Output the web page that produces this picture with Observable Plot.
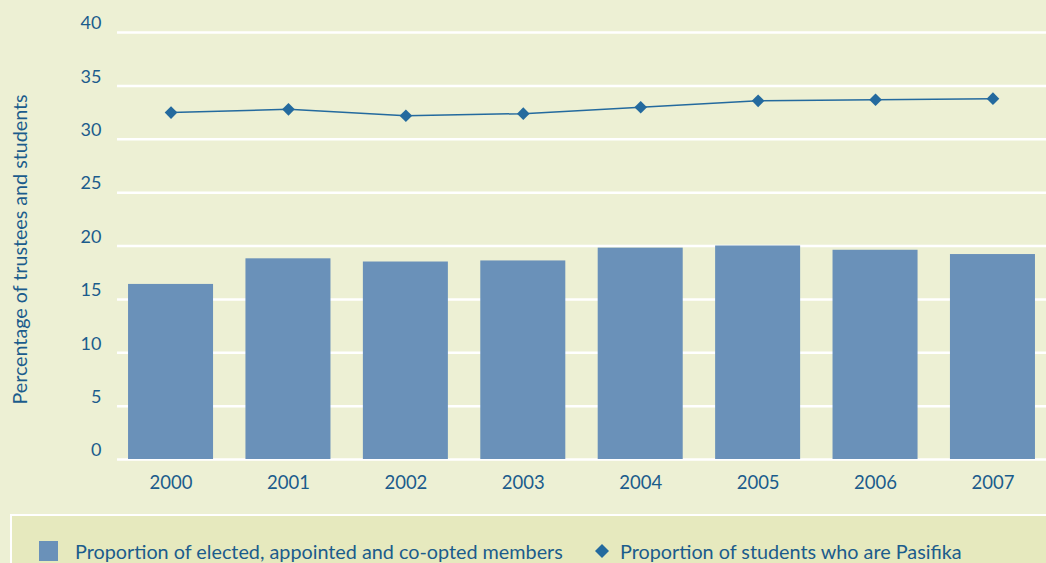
<!DOCTYPE html>
<html><head><meta charset="utf-8">
<script src="https://cdn.jsdelivr.net/npm/d3@7"></script>
<script src="https://cdn.jsdelivr.net/npm/@observablehq/plot@0.6"></script>
<style>
html,body{margin:0;padding:0;background:#edf0d4;}
#wrap{position:relative;width:1046px;height:563px;overflow:hidden;font-family:Lato,sans-serif;color:#1b5c8c;}
#chart{position:absolute;left:0;top:0;}
#legend{position:absolute;left:10px;top:514px;width:1040px;height:60px;background:#e6e9be;border-top:2px solid #fff;border-left:2px solid #fff;}
.item{position:absolute;top:24px;height:22px;display:flex;align-items:center;font-size:19.8px;white-space:nowrap;}
.sq{width:19px;height:20px;background:#6a91b9;display:inline-block;}
</style>
</head><body>
<div id="wrap">
  <div id="chart"></div>
  <div id="legend">
    <div class="item" style="left:27px;"><span class="sq"></span><span style="margin-left:17px">Proportion of elected, appointed and co-opted members</span></div>
    <div class="item" style="left:582px;"><svg width="16" height="16" viewBox="-8 -8 16 16"><path d="M0,-7L7,0L0,7L-7,0Z" fill="#246a9e"/></svg><span style="margin-left:10px">Proportion of students who are Pasifika</span></div>
  </div>
</div>
<script>
const years = ["2000","2001","2002","2003","2004","2005","2006","2007"];
const members = [16.4, 18.8, 18.5, 18.6, 19.8, 20.0, 19.6, 19.2];
const students = [32.5, 32.8, 32.2, 32.4, 33.0, 33.6, 33.7, 33.8];
const yTicks = [0, 5, 10, 15, 20, 25, 30, 35, 40];
const yLabel = "Percentage of trustees and students";

const data = years.map((y, i) => ({year: y, members: members[i], students: students[i]}));
const ink = "#1b5c8c";

const chart = Plot.plot({
  width: 1046,
  height: 505,
  marginLeft: 117,
  marginRight: 0,
  marginTop: 32,
  marginBottom: 46,
  style: {background: "transparent", fontFamily: "Lato, sans-serif", color: ink},
  x: {domain: years, paddingInner: 0.276, paddingOuter: 0.094, round: false, label: null},
  y: {domain: [0, 40], label: null},
  marks: [
    Plot.ruleY(yTicks, {stroke: "#fff", strokeWidth: 2.5}),
    Plot.barY(data, {x: "year", y: "members", fill: "#6a91b9"}),
    Plot.line(data, {x: "year", y: "students", stroke: "#246a9e", strokeWidth: 1.5}),
    Plot.dot(data, {x: "year", y: "students", symbol: "diamond2", r: 5.7, fill: "#246a9e", stroke: "none"}),
    Plot.axisY(yTicks, {tickSize: 0, tickPadding: 16, dy: -9, fontSize: 18, fill: ink, label: null}),
    Plot.axisX({tickSize: 0, tickPadding: 16, fontSize: 18.5, fill: ink, label: null}),
    Plot.text([yLabel], {text: d => d, frameAnchor: "left", textAnchor: "middle", dx: -97, dy: 3.5, rotate: -90, fontSize: 19.7, fill: ink})
  ]
});
document.getElementById("chart").appendChild(chart);
</script>
</body></html>
